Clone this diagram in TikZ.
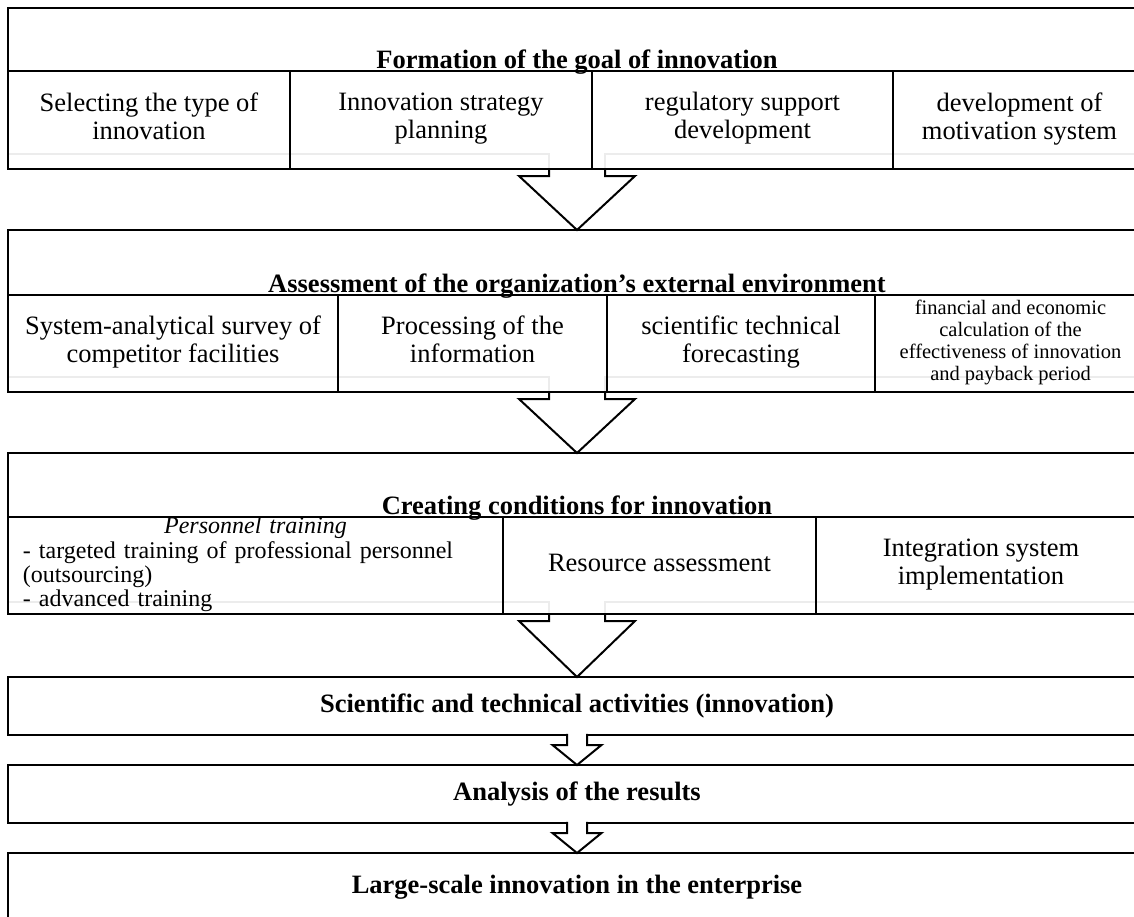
\documentclass[tikz,border=0pt]{standalone}
\usepackage{fontspec}
\setmainfont{Liberation Serif}

\newcommand{\mainsize}{\fontsize{26.5}{28}\selectfont}
\newcommand{\smallsize}{\fontsize{20.5}{22}\selectfont}
\newcommand{\listsize}{\fontsize{24}{24}\selectfont}

% faint outline of the shaft hidden #2 pt inside stage #1
\newcommand{\ghostline}[2]{%
  \draw[ghost] ([yshift=#2pt]#1.south west) -- ([xshift=-28pt,yshift=#2pt]#1.south) -- ([xshift=-28pt]#1.south);
  \draw[ghost] ([xshift=28pt]#1.south) -- ([xshift=28pt,yshift=#2pt]#1.south) -- ([yshift=#2pt]#1.south east);}
\newcommand{\bigarrow}[2]{%
  \draw[pointer] ([xshift=-28pt]#1.south) -- ([xshift=-28pt,yshift=-7pt]#1.south)
    -- ([xshift=-58pt,yshift=-7pt]#1.south) -- (#2.north)
    -- ([xshift=58pt,yshift=-7pt]#1.south) -- ([xshift=28pt,yshift=-7pt]#1.south)
    -- ([xshift=28pt]#1.south);}
\newcommand{\smallarrow}[2]{%
  \draw[pointer,fill=white] ([xshift=-10pt,yshift=1.1pt]#1.south) -- ([xshift=-10pt,yshift=-10pt]#1.south)
    -- ([xshift=-24.5pt,yshift=-10pt]#1.south) -- (#2.north)
    -- ([xshift=24.5pt,yshift=-10pt]#1.south) -- ([xshift=10pt,yshift=-10pt]#1.south)
    -- ([xshift=10pt,yshift=1.1pt]#1.south);}

\begin{document}
\begin{tikzpicture}[x=1pt,y=-1pt,line width=2.2pt]
  \tikzstyle{stage}=[draw,minimum width=1138pt,inner sep=0pt,outer sep=0pt,align=center,font=\bfseries\mainsize]
  \tikzstyle{cell}=[draw,anchor=north west,inner sep=0pt,outer sep=0pt,align=center,font=\mainsize,
    execute at begin node=\strut,execute at end node=\strut]
  \tikzstyle{heading}=[anchor=base,inner sep=0pt,yshift=3pt,font=\bfseries\mainsize]
  \tikzstyle{pointer}=[line width=2pt,line join=miter]
  \tikzstyle{ghost}=[gray!15,line width=2pt]
  \useasboundingbox (0,0) rectangle (1134,916);

  \node[stage,minimum height=161pt] (goal) at (577,88.5) {};
  \ghostline{goal}{15}
  \node[cell,minimum width=282pt,minimum height=98pt] (goal1) at (8,71) {Selecting the type of\\innovation};
  \node[cell,minimum width=302pt,minimum height=98pt] (goal2) at (goal1.north east) {Innovation strategy\\planning};
  \node[cell,minimum width=301pt,minimum height=98pt] (goal3) at (goal2.north east) {regulatory support\\development};
  \node[cell,minimum width=253pt,minimum height=98pt] (goal4) at (goal3.north east) {development of\\motivation system};
  \node[heading] (goalT) at (goal.center |- goal1.north) {Formation of the goal of innovation};

  \node[stage,minimum height=162pt] (env) at (577,311) {};
  \ghostline{env}{15}
  \node[cell,minimum width=330pt,minimum height=97pt] (env1) at (8,295) {System-analytical survey of\\competitor facilities};
  \node[cell,minimum width=269pt,minimum height=97pt] (env2) at (env1.north east) {Processing of the\\information};
  \node[cell,minimum width=268pt,minimum height=97pt] (env3) at (env2.north east) {scientific technical\\forecasting};
  \node[cell,minimum width=271pt,minimum height=97pt,font=\smallsize] (env4) at (env3.north east) {financial and economic\\calculation of the\\effectiveness of innovation\\and payback period};
  \node[heading] (envT) at (env.center |- env1.north) {Assessment of the organization’s external environment};

  \node[stage,minimum height=161pt] (cond) at (577,533.5) {};
  \ghostline{cond}{12}
  \node[cell,minimum height=97pt,text width=465pt,inner xsep=15pt,align=left,font=\listsize,
    execute at begin node={},execute at end node={}] (cond1) at (8,517)
    {\makebox[465pt]{\itshape Personnel training}\\- targeted training of professional personnel\\(outsourcing)\\- advanced training};
  \node[cell,minimum width=313pt,minimum height=97pt] (cond2) at (cond1.north east) {Resource assessment};
  \node[cell,minimum width=330pt,minimum height=97pt] (cond3) at (cond2.north east) {Integration system\\implementation};
  \node[heading] (condT) at (cond.center |- cond1.north) {Creating conditions for innovation};

  \node[stage,minimum height=58pt] (act) at (577,706) {Scientific and technical activities (innovation)};
  \node[stage,minimum height=58pt] (res) at (577,794) {Analysis of the results};
  \node[stage,minimum height=68pt] (scale) at (577,887) {Large-scale innovation in the enterprise};

  \bigarrow{goal}{env}
  \bigarrow{env}{cond}
  \bigarrow{cond}{act}
  \smallarrow{act}{res}
  \smallarrow{res}{scale}
\end{tikzpicture}
\end{document}
